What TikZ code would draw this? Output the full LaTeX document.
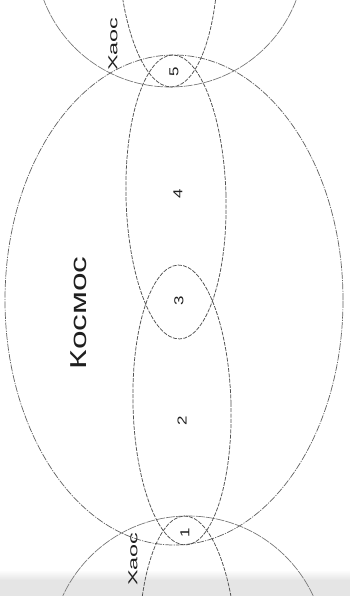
\documentclass[tikz,border=0pt]{standalone}
\usepackage{fontspec}
\usepackage{graphicx}
\setmainfont{Liberation Sans}
\begin{document}
\begin{tikzpicture}[x=1pt,y=-1pt,
  outer/.style={draw=black!62, line width=0.7pt, dash pattern=on 7pt off 1.2pt on 1.2pt off 1.2pt},
  chaos/.style={draw=black!55, line width=0.65pt, dash pattern=on 9pt off 1pt},
  inner/.style={draw=black!68, line width=0.75pt, dash pattern=on 4pt off 1.3pt},
  lbl/.style={inner sep=0pt, text=black!88, rotate=90}]
\useasboundingbox (0,0) rectangle (350,596);
\fill[white] (0,0) rectangle (350,596);
\shade[top color=white, bottom color=black!10] (0,570) rectangle (350,580);
\fill[black!10] (0,580) rectangle (350,596);
\begin{scope}
\clip (0,0) rectangle (350,596);
% Kosmos
\draw[outer] (174,300) ellipse [x radius=169pt, y radius=245pt];
% chaos circles
\draw[chaos] (170,-48) circle [radius=135pt];
\draw[chaos] (188,654) circle [radius=138pt];
% chain of dashed ellipses
\draw[inner] (168,-53) ellipse [x radius=50pt, y radius=140pt, rotate=1.5];
\draw[inner] (176,197) ellipse [x radius=50pt, y radius=142pt, rotate=1.5];
\draw[inner] (182,405) ellipse [x radius=49pt, y radius=140pt, rotate=1.5];
\draw[inner] (188,656) ellipse [x radius=49pt, y radius=140pt, rotate=1.5];
\end{scope}
% labels
\node[lbl] (kosmos) at (79,313) {\scalebox{1.45}[1]{\fontsize{23}{23}\selectfont Космос}};
\node[lbl] (xtop) at (113,44) {\scalebox{1.8}[1]{\fontsize{13}{13}\selectfont Хаос}};
\node[lbl] (xbot) at (133,559) {\scalebox{1.8}[1]{\fontsize{13}{13}\selectfont Хаос}};
\node[lbl] (n5) at (174,72) {\scalebox{1.3}[1]{\fontsize{13}{13}\selectfont 5}};
\node[lbl] (n4) at (178,194) {\scalebox{1.3}[1]{\fontsize{13}{13}\selectfont 4}};
\node[lbl] (n3) at (179,301) {\scalebox{1.3}[1]{\fontsize{13}{13}\selectfont 3}};
\node[lbl] (n2) at (182,421) {\scalebox{1.3}[1]{\fontsize{13}{13}\selectfont 2}};
\node[lbl] (n1) at (185,533) {\scalebox{1.3}[1]{\fontsize{13}{13}\selectfont 1}};
\end{tikzpicture}
\end{document}
